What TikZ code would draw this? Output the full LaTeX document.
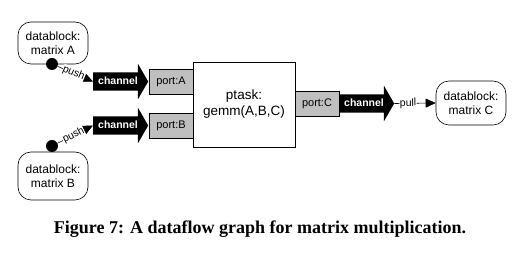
\documentclass[tikz,border=0pt]{standalone}
\usepackage{fontspec}
\setmainfont{Liberation Sans}
\newfontfamily\capfont{Liberation Serif}
\usetikzlibrary{shapes.arrows,arrows.meta}
\tikzset{
  datablk/.style={draw, line width=0.6pt, rounded corners=13pt, minimum width=70pt, minimum height=44pt, align=center, font=\fontsize{12}{14}\selectfont, inner sep=2pt},
  portbox/.style={draw, line width=0.6pt, fill=black!25, minimum width=44pt, minimum height=25pt, font=\fontsize{11}{13}\selectfont, inner sep=0pt},
  taskbox/.style={draw, line width=0.6pt, minimum width=102pt, minimum height=85pt, align=center, font=\fontsize{13.5}{16}\selectfont},
  chan/.style={single arrow, fill=black, text=white, font=\bfseries\fontsize{10.5}{12}\selectfont, text height=7.5pt, text depth=2pt, inner xsep=0.5pt, inner ysep=4.25pt, single arrow head extend=8.5pt, single arrow tip angle=120, single arrow head indent=0pt, minimum height=55pt, anchor=tail},
  dotnode/.style={circle, fill=black, inner sep=0pt, minimum size=12pt},
  flow/.style={line width=0.6pt, -{Triangle[length=10pt,width=9pt]}},
  flowlbl/.style={sloped, fill=white, inner sep=0.3pt, font=\fontsize{10.5}{12}\selectfont}
}
\begin{document}
\begin{tikzpicture}[x=1pt,y=-1pt]
\useasboundingbox (0,0) rectangle (520,253);
\node[taskbox] (task) at (244,104.5) {ptask:\\gemm(A,B,C)};
\node[portbox] (portA) at (171,81.5) {port:A};
\node[portbox] (portB) at (171,125.5) {port:B};
\node[portbox] (portC) at (317,103.5) {port:C};
\node[chan] (chanA) at (93,81.5) {channel};
\node[chan] (chanB) at (93,125.5) {channel};
\node[chan] (chanC) at (339,103.5) {channel};
\node[datablk, minimum height=42pt] (blkA) at (53,43) {datablock:\\matrix A};
\node[datablk, minimum height=48pt] (blkB) at (53,176) {datablock:\\matrix B};
\node[datablk] (blkC) at (471,103) {datablock:\\matrix C};
\node[dotnode] (dotA) at (52,64) {};
\node[dotnode] (dotB) at (52,146) {};
\draw[flow] (dotA) -- node[flowlbl, pos=0.45] {push} (chanA.tail);
\draw[flow] (dotB) -- node[flowlbl, pos=0.45] {push} (chanB.tail);
\draw[flow] (chanC.tip) -- node[flowlbl, pos=0.33] {pull} (blkC.west);
\node[font=\capfont\bfseries\fontsize{18}{20}\selectfont] (cap) at (260,229) {Figure 7: A dataflow graph for matrix multiplication.};
\end{tikzpicture}
\end{document}
